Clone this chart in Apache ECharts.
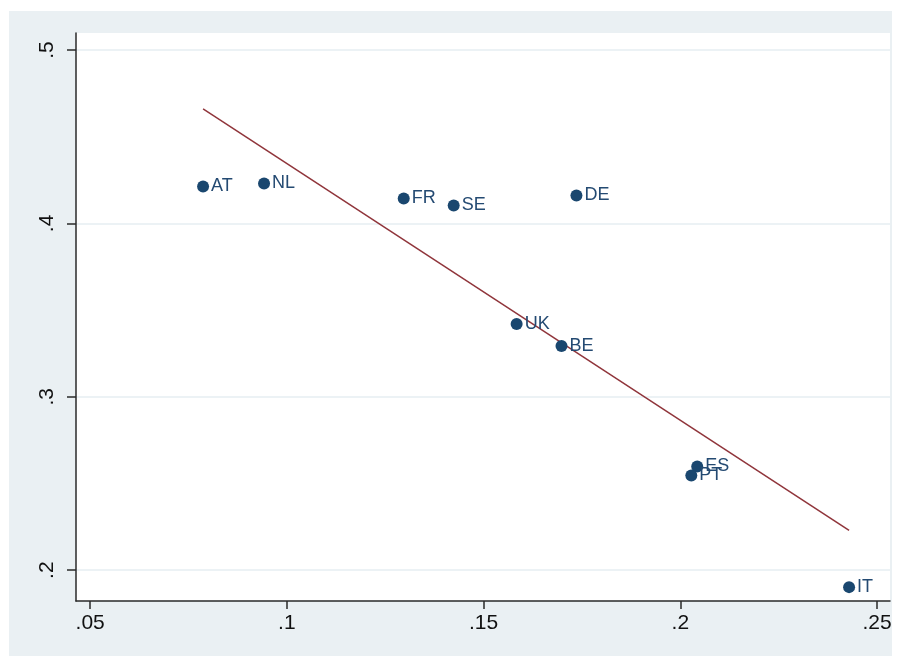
<!DOCTYPE html>
<html>
<head>
<meta charset="utf-8">
<script src="https://cdn.jsdelivr.net/npm/echarts@6/dist/echarts.min.js"></script>
<style>
  html, body { margin: 0; padding: 0; background: #fff; }
  #chart { width: 901px; height: 656px; }
</style>
</head>
<body>
<div id="chart"></div>
<script>
    'use strict';

    // country points
    const countries = ["AT", "NL", "FR", "SE", "DE", "UK", "BE", "ES", "PT", "IT"];
    const xValues = [0.0787, 0.0942, 0.1297, 0.1424, 0.1736, 0.1584, 0.1698, 0.2043, 0.2028, 0.2429];
    const yValues = [0.4213, 0.4230, 0.4144, 0.4103, 0.4161, 0.3420, 0.3293, 0.2598, 0.2546, 0.1902];

    // fitted line endpoints
    const fitX = [0.0787, 0.2429];
    const fitY = [0.4661, 0.2230];

    // tick labels
    const xTicks = [0.05, 0.1, 0.15, 0.2, 0.25];
    const yTicks = [0.2, 0.3, 0.4, 0.5];

    const NAVY = "#1a476f";
    const FONT = "Liberation Sans";
    const fmt = (v) => String(+v.toFixed(2)).replace(/^0/, "");

    let chart = echarts.init(document.getElementById("chart"), null, { renderer: "canvas" });

    let points = countries.map((c, i) => ({ name: c, value: [xValues[i], yValues[i]] }));
    let fit = fitX.map((x, i) => [x, fitY[i]]);

    chart.setOption({
        backgroundColor: "#fff",
        animation: false,
        graphic: [{
            type: "rect",
            z: -10,
            shape: { x: 9, y: 11, width: 883, height: 645 },
            style: { fill: "#eaf0f3" }
        }],
        grid: {
            left: 76, top: 33, right: 11, bottom: 55,
            show: true, backgroundColor: "#fff", borderWidth: 0
        },
        xAxis: {
            type: "value",
            min: 0.0464, max: 0.2533,
            axisLine: { show: true, onZero: false, lineStyle: { color: "#2a2a2a", width: 1.5 } },
            axisTick: { show: true, length: 8, customValues: xTicks, lineStyle: { color: "#2a2a2a", width: 1.5 } },
            axisLabel: {
                customValues: xTicks, formatter: fmt, margin: 12,
                color: "#111", fontFamily: FONT, fontSize: 21
            },
            splitLine: { show: false }
        },
        yAxis: {
            type: "value",
            min: 0.1822, max: 0.5098,
            axisLine: { show: true, onZero: false, lineStyle: { color: "#2a2a2a", width: 1.5 } },
            axisTick: { show: true, length: 9, customValues: yTicks, lineStyle: { color: "#2a2a2a", width: 1.5 } },
            axisLabel: {
                customValues: yTicks, formatter: fmt, rotate: 90, margin: 18,
                color: "#111", fontFamily: FONT, fontSize: 21
            },
            splitLine: { show: true, lineStyle: { color: "#e6eef2", width: 1.5 } }
        },
        series: [
            {
                type: "line",
                data: fit,
                symbol: "none",
                lineStyle: { color: "#90353b", width: 1.5 },
                z: 3
            },
            {
                type: "scatter",
                data: points,
                symbolSize: 12,
                itemStyle: { color: NAVY, opacity: 1 },
                label: {
                    show: true, position: "right", distance: 2,
                    formatter: "{b}", color: "#244a72",
                    fontFamily: FONT, fontSize: 18
                },
                z: 4
            }
        ]
    });
</script>
</body>
</html>
